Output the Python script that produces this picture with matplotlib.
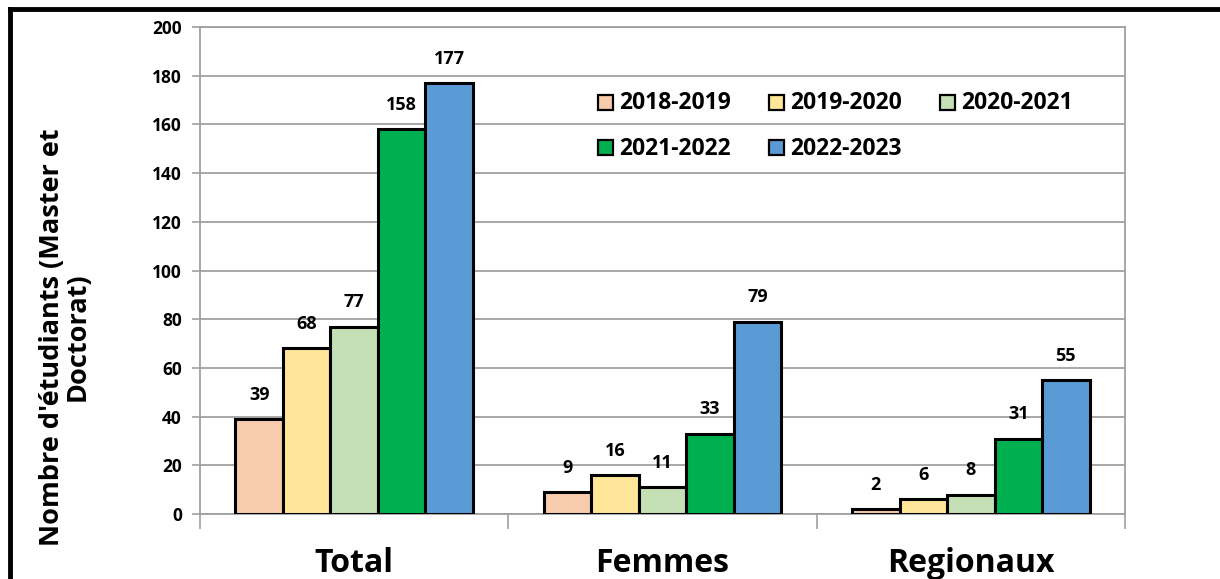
import matplotlib
matplotlib.use("Agg")
import matplotlib.pyplot as plt
import numpy as np
from matplotlib.lines import Line2D
from matplotlib.patches import Rectangle

plt.rcParams["font.family"] = ["Open Sans", "DejaVu Sans"]
plt.rcParams["font.weight"] = "bold"

# ── data ──
categories = ["Total", "Femmes", "Regionaux"]
years = ["2018-2019", "2019-2020", "2020-2021", "2021-2022", "2022-2023"]
v_2018 = [39, 9, 2]
v_2019 = [68, 16, 6]
v_2020 = [77, 11, 8]
v_2021 = [158, 33, 31]
v_2022 = [177, 79, 55]
series = [v_2018, v_2019, v_2020, v_2021, v_2022]
colors = ["#F8CBAD", "#FFE699", "#C5E0B4", "#00B050", "#5B9BD5"]
y_ticks = list(range(0, 201, 20))

W, H = 1220, 579
fig = plt.figure(figsize=(W / 100, H / 100), dpi=100)
ax = fig.add_axes([200 / W, 1 - 514 / H, 925 / W, (514 - 27) / H])

x = np.arange(len(categories))
w = 0.154
for i, (vals, col, lab) in enumerate(zip(series, colors, years)):
    pos = x + (i - 2) * w
    bars = ax.bar(pos, vals, w, color=col, edgecolor="black", linewidth=2.2,
                  label=lab, zorder=3)
    for b, v in zip(bars, vals):
        ax.annotate(str(v), (b.get_x() + b.get_width() / 2, v),
                    xytext=(0, 11), textcoords="offset points",
                    ha="center", va="bottom", fontsize=13, fontweight="bold")

ax.set_xlim(-0.5, 2.5)
ax.set_ylim(0, 200)
ax.set_yticks(y_ticks)
ax.tick_params(axis="y", labelsize=12.5, length=6, width=1.2, color="#A0A0A0", pad=7)
for t in ax.get_yticklabels():
    t.set_fontweight("bold")
ax.yaxis.grid(True, color="#A0A0A0", linewidth=1.3, zorder=0)

# boundaries as major ticks, category names on minor ticks
ax.set_xticks([-0.5, 0.5, 1.5, 2.5])
ax.set_xticklabels([])
ax.tick_params(axis="x", which="major", length=11, width=1.2, color="#A0A0A0")
ax.set_xticks(x, minor=True)
ax.set_xticklabels(categories, minor=True, fontsize=23, fontweight="bold")
ax.tick_params(axis="x", which="minor", length=0, pad=24)

for s in ax.spines.values():
    s.set_color("#A0A0A0")
    s.set_linewidth(1.3)

# legend, drawn row by row like the original
for i, (lab, col) in enumerate(zip(years, colors)):
    c, r = i % 3, i // 3
    x0 = 598 + 171 * c
    yc = 102 + 46 * r
    fig.add_artist(Rectangle((x0 / W, 1 - (yc + 7.5) / H), 15 / W, 15 / H,
                             transform=fig.transFigure, facecolor=col,
                             edgecolor="black", linewidth=1.6))
    fig.text((x0 + 21) / W, 1 - (yc + 1) / H, lab, ha="left", va="center",
             fontsize=16.5, fontweight="bold")

fig.text(0.053, 0.418, "Nombre d'étudiants (Master et\nDoctorat)",
         rotation=90, ha="center", va="center", multialignment="center",
         fontsize=19.5, fontweight="bold", linespacing=1.0)

# outer frame (left and top visible)
fig.add_artist(Line2D([10 / W, 10 / W], [0, 1 - 9 / H],
                      transform=fig.transFigure, color="black", linewidth=3.5))
fig.add_artist(Line2D([10 / W, 1], [1 - 9 / H, 1 - 9 / H],
                      transform=fig.transFigure, color="black", linewidth=3.5))

fig.savefig("out.png", dpi=100)
